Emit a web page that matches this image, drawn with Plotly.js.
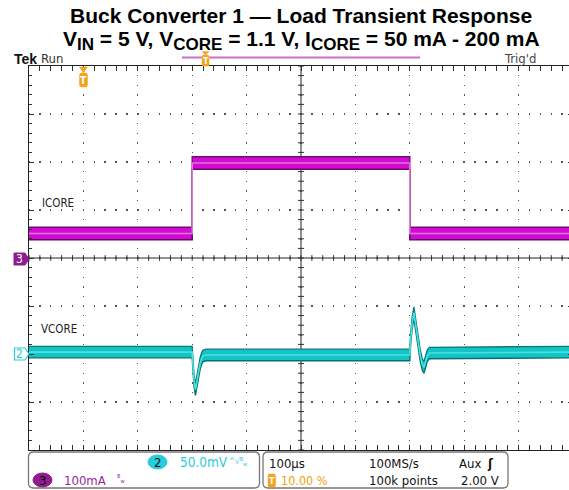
<!DOCTYPE html>
<html>
<head>
<meta charset="utf-8">
<script src="https://cdn.plot.ly/plotly-3.0.1.min.js"></script>
<style>
html, body { margin: 0; padding: 0; overflow: hidden; background: #fff; }
#chart { width: 573px; height: 490px; }
</style>
</head>
<body>
<div id="chart"></div>
<script>
// ---- Data (read from the scope capture) ----
// ICORE: channel 3, 100 mA/div
const icoreTimeUs = [-100, 200, 200, 600, 600, 900];
const icoreMa     = [51, 51, 198, 198, 51, 51];
const icoreSpreadMa = 13;          // persistence band half-width

// VCORE: channel 2, 50 mV/div (view around 1.1 V)
const vcoreTimeUs = [-100, 200, 201.5, 203.5, 206, 209, 212, 214.5, 217, 220, 226,
                     600, 601.5, 604, 607.5, 611, 615, 619, 623, 626, 629, 632, 636, 900];
const vcoreV      = [1.102, 1.102, 1.088, 1.072, 1.063, 1.074, 1.084, 1.090, 1.095, 1.098, 1.099,
                     1.099, 1.115, 1.131, 1.143, 1.128, 1.112, 1.099, 1.089, 1.086, 1.092, 1.098, 1.101, 1.102];
const vcoreSpreadV = 0.006;

// Settings readout text
const ch2Scale = '50.0mV';
const ch3Scale = '100mA';
const timeScale = '100µs';
const sampleRate = '100MS/s';
const recordLen = '100k points';
const trigPos = '10.00 %';
const trigSource = 'Aux';
const trigLevel = '2.00 V';
const traceNames = ['ICORE', 'VCORE'];

// ---- Geometry helpers (pixel -> paper) ----
const L = 29, T = 66, W = 544, H = 384;
const PX = p => (p - L) / W;
const PY = p => (T + H - p) / H;

const COND = 'DejaVu Sans Condensed, DejaVu Sans, sans-serif';
const CYAN = '#27cddb', PURPLE = '#9c1f9c', ORANGE = '#f5a21c';

function rrect(x0, y0, x1, y1, r) {
  const f = (x, y) => PX(x) + ',' + PY(y);
  return 'M' + f(x0 + r, y0) + 'L' + f(x1 - r, y0) + 'Q' + f(x1, y0) + ' ' + f(x1, y0 + r) +
    'L' + f(x1, y1 - r) + 'Q' + f(x1, y1) + ' ' + f(x1 - r, y1) +
    'L' + f(x0 + r, y1) + 'Q' + f(x0, y1) + ' ' + f(x0, y1 - r) +
    'L' + f(x0, y0 + r) + 'Q' + f(x0, y0) + ' ' + f(x0 + r, y0) + 'Z';
}
function poly(pts) {
  return 'M' + pts.map(p => PX(p[0]) + ',' + PY(p[1])).join('L') + 'Z';
}

// ---- Traces ----
const vLow = vcoreV.map(v => v - vcoreSpreadV);
const vHigh = vcoreV.map(v => v + vcoreSpreadV);
const iLow = icoreMa.map(v => v - icoreSpreadMa);
const iHigh = icoreMa.map(v => v + icoreSpreadMa);

const traces = [
  {x: vcoreTimeUs, y: vLow, yaxis: 'y2', mode: 'lines', line: {color: '#087070', width: 1.4}, hoverinfo: 'skip'},
  {x: vcoreTimeUs, y: vHigh, yaxis: 'y2', mode: 'lines', fill: 'tonexty', fillcolor: '#14c4c4',
   line: {color: '#0a7a7a', width: 1.3}, hoverinfo: 'skip'},
  {x: vcoreTimeUs, y: vcoreV, yaxis: 'y2', mode: 'lines', line: {color: '#45e2e2', width: 1.6}, hoverinfo: 'skip', name: traceNames[1]},
  {x: icoreTimeUs, y: iLow, mode: 'lines', line: {color: '#640c64', width: 1.5}, hoverinfo: 'skip'},
  {x: icoreTimeUs, y: iHigh, mode: 'lines', fill: 'tonexty', fillcolor: '#d40ad4',
   line: {color: '#700c70', width: 1.4}, hoverinfo: 'skip'},
  {x: icoreTimeUs, y: icoreMa, mode: 'lines', line: {color: '#d87ad8', width: 1.6}, hoverinfo: 'skip', name: traceNames[0]}
];

// ---- Shapes ----
const shapes = [];
// center cross lines
shapes.push({type: 'line', xref: 'x', yref: 'paper', x0: 400, x1: 400, y0: 0, y1: 1, line: {color: '#222', width: 1}, layer: 'between'});
shapes.push({type: 'line', xref: 'paper', yref: 'y', x0: 0, x1: 1, y0: 0, y1: 0, line: {color: '#222', width: 1}, layer: 'between'});
for (let t = -100; t <= 900; t += 20) {
  shapes.push({type: 'line', xref: 'x', yref: 'y', x0: t, x1: t, y0: -6, y1: 6, line: {color: '#333', width: 1}, layer: 'between'});
}
for (let m = -400; m <= 400; m += 20) {
  shapes.push({type: 'line', xref: 'x', yref: 'y', x0: 394.5, x1: 405.5, y0: m, y1: m, line: {color: '#333', width: 1}, layer: 'between'});
}
// channel markers
shapes.push({type: 'path', xref: 'paper', yref: 'paper', path: poly([[14, 253], [25, 253], [29, 259], [25, 265], [14, 265]]),
  fillcolor: '#8f1c8f', line: {color: '#8f1c8f', width: 1}});
shapes.push({type: 'path', xref: 'paper', yref: 'paper', path: poly([[14.5, 348], [25, 348], [29, 354], [25, 360], [14.5, 360]]),
  fillcolor: '#ffffff', line: {color: CYAN, width: 1.2}});
// trigger marker in graticule
shapes.push({type: 'path', xref: 'paper', yref: 'paper', path: poly([[79.5, 67], [87.5, 67], [83.5, 73]]),
  fillcolor: ORANGE, line: {color: ORANGE, width: 0.5}});
shapes.push({type: 'path', xref: 'paper', yref: 'paper', path: rrect(79.5, 73, 87.5, 87, 2),
  fillcolor: ORANGE, line: {color: ORANGE, width: 0.5}});
// record bar and trigger marker at top
shapes.push({type: 'line', xref: 'paper', yref: 'paper', x0: PX(182), x1: PX(420), y0: PY(57.5), y1: PY(57.5),
  line: {color: '#cc6fcc', width: 2}});
shapes.push({type: 'path', xref: 'paper', yref: 'paper', path: poly([[202, 51.5], [209, 51.5], [205.5, 55]]),
  fillcolor: ORANGE, line: {color: ORANGE, width: 0.5}});
shapes.push({type: 'path', xref: 'paper', yref: 'paper', path: rrect(202, 55, 209, 66, 1.5),
  fillcolor: ORANGE, line: {color: ORANGE, width: 0.5}});
// readout boxes
shapes.push({type: 'path', xref: 'paper', yref: 'paper', path: rrect(28.5, 452, 259.5, 488, 5),
  fillcolor: '#ffffff', line: {color: '#777', width: 1.3}});
shapes.push({type: 'path', xref: 'paper', yref: 'paper', path: rrect(263, 452, 508, 488, 5),
  fillcolor: '#ffffff', line: {color: '#777', width: 1.3}});
// channel badges
shapes.push({type: 'circle', xref: 'paper', yref: 'paper', x0: PX(148), x1: PX(167), y0: PY(455), y1: PY(469),
  fillcolor: CYAN, line: {color: CYAN, width: 1}});
shapes.push({type: 'circle', xref: 'paper', yref: 'paper', x0: PX(33), x1: PX(52), y0: PY(473), y1: PY(487),
  fillcolor: '#8f1c8f', line: {color: '#8f1c8f', width: 1}});
shapes.push({type: 'path', xref: 'paper', yref: 'paper', path: rrect(268, 474, 275.5, 487, 1.5),
  fillcolor: ORANGE, line: {color: ORANGE, width: 0.5}});

// ---- Annotations ----
function txt(text, px, py, opts) {
  opts = opts || {};
  return {
    text: text, xref: 'paper', yref: 'paper', x: PX(px), y: PY(py),
    xanchor: opts.xanchor || 'left', yanchor: 'middle', showarrow: false,
    font: {family: opts.family || COND, size: opts.size || 13, color: opts.color || '#111'}
  };
}
const TITLE_FONT = 'Liberation Sans, Arial, sans-serif';
const S = s => '<sub><span style="font-size:17px">' + s + '</span></sub>';
const annotations = [
  txt('<b>Buck Converter 1 — Load Transient Response</b>', 301, 15,
      {xanchor: 'center', family: TITLE_FONT, size: 21, color: '#000'}),
  txt('<b>V' + S('IN') + ' = 5 V, V' + S('CORE') + ' = 1.1 V, I' + S('CORE') + ' = 50 mA - 200 mA</b>', 301, 40,
      {xanchor: 'center', family: TITLE_FONT, size: 21, color: '#000'}),
  txt('<b>Tek</b>', 12, 59, {size: 14, color: '#111', family: TITLE_FONT}),
  txt('Run', 38.5, 59, {size: 13, color: '#333'}),
  txt("Trig'd", 502, 59, {size: 13, color: '#444'}),
  txt(traceNames[0], 40, 203, {size: 11.5, color: '#222'}),
  txt(traceNames[1], 39, 328.5, {size: 11.5, color: '#222'}),
  txt('3', 19.5, 259, {xanchor: 'center', size: 12, color: '#fff'}),
  txt('2', 19.5, 354, {xanchor: 'center', size: 12, color: CYAN}),
  txt('<b>T</b>', 83.5, 80.5, {xanchor: 'center', size: 10, color: '#fff'}),
  txt('<b>T</b>', 205.5, 61, {xanchor: 'center', size: 9, color: '#fff'}),
  // readout box 1
  txt('2', 157.5, 462, {xanchor: 'center', size: 13, color: '#111'}),
  txt(ch2Scale, 178, 462, {size: 13.5, color: CYAN}),
  txt('^√<sup>B</sup><sub>w</sub>', 227, 461, {size: 8, color: CYAN}),
  txt('3', 42.5, 480, {xanchor: 'center', size: 13, color: '#111'}),
  txt(ch3Scale, 62, 480, {size: 13, color: PURPLE}),
  txt('<sup>B</sup><sub>w</sub>', 115, 478, {size: 8, color: PURPLE}),
  // readout box 2
  txt(timeScale, 267, 463, {size: 13}),
  txt(sampleRate, 367, 463, {size: 13}),
  txt(trigSource, 457, 463, {size: 13}),
  txt('<b>ʃ</b>', 490, 463, {xanchor: 'center', size: 13}),
  txt('<b>T</b>', 271.8, 480.5, {xanchor: 'center', size: 9, color: '#fff'}),
  txt(trigPos, 279, 480, {size: 12.5, color: '#f59e0b'}),
  txt(recordLen, 367, 480, {size: 13}),
  txt(trigLevel, 501, 480, {xanchor: 'right', size: 13})
];

const layout = {
  width: 573, height: 490,
  margin: {l: L, r: 573 - L - W, t: T, b: 490 - T - H, pad: 0},
  paper_bgcolor: '#fff', plot_bgcolor: '#fff',
  showlegend: false,
  xaxis: {
    range: [-100, 900], tick0: -100, dtick: 100, fixedrange: true,
    showgrid: true, gridcolor: '#555', gridwidth: 1.3, griddash: '0.7px,8.2px,0.7px,0px',
    zeroline: false, showticklabels: false,
    showline: true, linecolor: '#222', linewidth: 1, mirror: 'allticks',
    ticks: 'inside', ticklen: 5, tickcolor: '#333', tickwidth: 1,
    minor: {dtick: 20, tick0: -100, ticks: 'inside', ticklen: 3, tickcolor: '#333', showgrid: false}
  },
  yaxis: {
    range: [-400, 400], tick0: 0, dtick: 100, fixedrange: true,
    showgrid: true, gridcolor: '#555', gridwidth: 1.3, griddash: '0.7px,9.48px,0.7px,0px',
    zeroline: false, showticklabels: false,
    showline: true, linecolor: '#222', linewidth: 1, mirror: 'allticks',
    ticks: 'inside', ticklen: 5, tickcolor: '#333', tickwidth: 1,
    minor: {dtick: 20, tick0: 0, ticks: 'inside', ticklen: 3, tickcolor: '#333', showgrid: false}
  },
  yaxis2: {range: [1.0, 1.4], overlaying: 'y', visible: false, fixedrange: true},
  shapes: shapes,
  annotations: annotations
};

Plotly.newPlot('chart', traces, layout, {staticPlot: true, displayModeBar: false});
</script>
</body>
</html>
